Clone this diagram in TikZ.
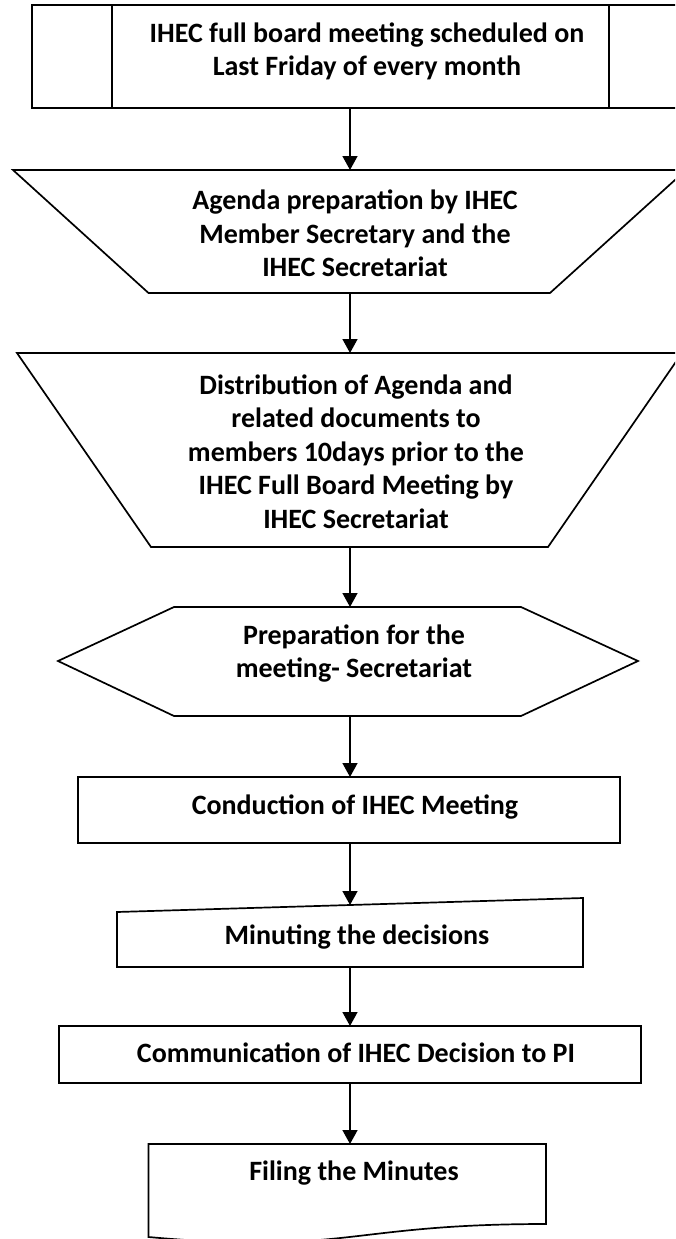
\documentclass[tikz,border=0pt]{standalone}
\usepackage{fontspec}
\setmainfont{Carlito}
\usetikzlibrary{arrows.meta}
\tikzset{
  shapeline/.style={draw=black, line width=1.7pt, line join=miter},
  flow/.style={draw=black, line width=1.5pt, -{Triangle[length=14pt,width=15pt]}},
  lbl/.style={align=center, inner sep=0pt, font=\bfseries\fontsize{28}{33.5}\selectfont},
}
\begin{document}
\begin{tikzpicture}[x=1pt,y=-1pt]
\useasboundingbox (0,0) rectangle (675,1239);
\begin{scope}
\clip (0,0) rectangle (675,1239);

% predefined process: monthly meeting
\draw[shapeline] (32,5) rectangle (690,108);
\draw[shapeline] (112,5) -- (112,108);
\draw[shapeline] (609,5) -- (609,108);
\coordinate (s1b) at (350,108);
\node[lbl] (t1) at (367,51.5) {IHEC full board meeting scheduled on\\Last Friday of every month};

% manual operation: agenda preparation
\draw[shapeline] (13,170) -- (686,170) -- (550,293) -- (148.5,293) -- cycle;
\coordinate (s2t) at (350,170);
\coordinate (s2b) at (350,293);
\node[lbl] (t2) at (355,233.5) {Agenda preparation by IHEC\\Member Secretary and the\\IHEC Secretariat};

% manual operation: distribution of agenda
\draw[shapeline] (17,353) -- (682,353) -- (548,547) -- (151,547) -- cycle;
\coordinate (s3t) at (350,353);
\coordinate (s3b) at (350,547);
\node[lbl] (t3) at (356,451.5) {Distribution of Agenda and\\related documents to\\members 10days prior to the\\IHEC Full Board Meeting by\\IHEC Secretariat};

% preparation: meeting preparation
\draw[shapeline] (58,661) -- (174,607) -- (521,607) -- (638,661) -- (521,716) -- (174,716) -- cycle;
\coordinate (s4t) at (350,607);
\coordinate (s4b) at (350,716);
\node[lbl] (t4) at (354,653.5) {Preparation for the\\meeting- Secretariat};

% process: conduction of meeting
\draw[shapeline] (78,777) rectangle (620,843);
\coordinate (s5t) at (350,777);
\coordinate (s5b) at (350,843);
\node[lbl] (t5) at (355,807) {Conduction of IHEC Meeting};

% manual input: minuting
\draw[shapeline] (117,912) -- (583,898) -- (583,967) -- (117,967) -- cycle;
\coordinate (s6t) at (350,905);
\coordinate (s6b) at (350,967);
\node[lbl] (t6) at (357,937) {Minuting the decisions};

% process: communication to PI
\draw[shapeline] (59,1026) rectangle (641,1083);
\coordinate (s7t) at (350,1026);
\coordinate (s7b) at (350,1083);
\node[lbl] (t7) at (356,1053) {Communication of IHEC Decision to PI};

% document: filing the minutes
\draw[shapeline] (148.5,1144) -- (546,1144) -- (546,1224)
  .. controls (347,1224) and (347,1255) .. (148.5,1237) -- cycle;
\coordinate (s8t) at (350,1144);
\node[lbl] (t8) at (354,1173) {Filing the Minutes};

% connectors
\draw[flow] (s1b) -- (s2t);
\draw[flow] (s2b) -- (s3t);
\draw[flow] (s3b) -- (s4t);
\draw[flow] (s4b) -- (s5t);
\draw[flow] (s5b) -- (s6t);
\draw[flow] (s6b) -- (s7t);
\draw[flow] (s7b) -- (s8t);
\end{scope}
\end{tikzpicture}
\end{document}
